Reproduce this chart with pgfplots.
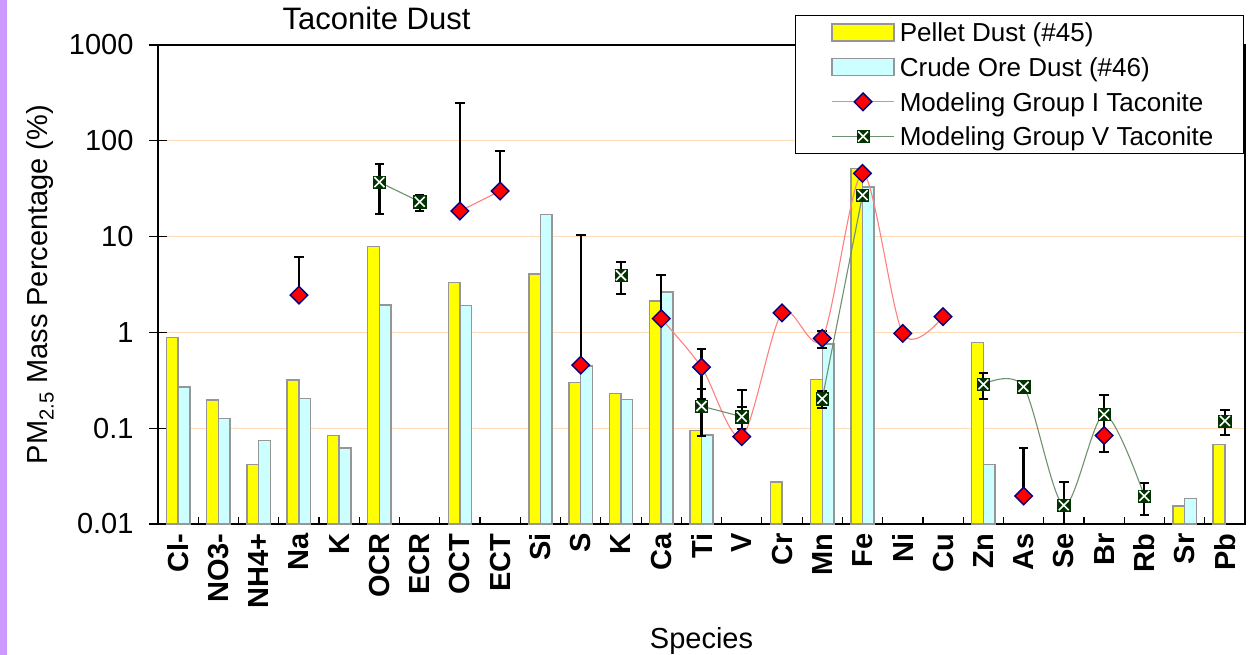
\documentclass[border=0pt]{standalone}
\usepackage{pgfplots}
\pgfplotsset{compat=1.18}
\usepackage{pgfplotstable}
\usepackage{fontspec}
\setmainfont{Liberation Sans}

\definecolor{pellet}{RGB}{255,255,0}
\definecolor{crude}{RGB}{204,255,255}
\definecolor{baredge}{RGB}{150,150,150}
\definecolor{gridpeach}{RGB}{255,218,185}
\definecolor{gonefill}{RGB}{255,0,0}
\definecolor{goneedge}{RGB}{0,0,128}
\definecolor{goneline}{RGB}{255,128,128}
\definecolor{gfivefill}{RGB}{0,51,0}
\definecolor{gfiveline}{RGB}{110,145,110}
\definecolor{sidebar}{RGB}{204,153,255}

% filled square with a white diagonal cross
\pgfdeclareplotmark{boxx}{%
  \pgfpathrectangle{\pgfqpoint{-\pgfplotmarksize}{-\pgfplotmarksize}}%
    {\pgfqpoint{2\pgfplotmarksize}{2\pgfplotmarksize}}%
  \pgfusepathqfillstroke
  \begin{pgfscope}%
    \pgfsetstrokecolor{white}%
    \pgfsetlinewidth{1.6bp}%
    \pgfpathmoveto{\pgfqpoint{-0.8\pgfplotmarksize}{-0.8\pgfplotmarksize}}%
    \pgfpathlineto{\pgfqpoint{0.8\pgfplotmarksize}{0.8\pgfplotmarksize}}%
    \pgfpathmoveto{\pgfqpoint{-0.8\pgfplotmarksize}{0.8\pgfplotmarksize}}%
    \pgfpathlineto{\pgfqpoint{0.8\pgfplotmarksize}{-0.8\pgfplotmarksize}}%
    \pgfusepathqstroke
  \end{pgfscope}%
}

\pgfplotsset{
  dust legend/.style={legend image code/.code={%
    \path (0bp,0bp); \draw[##1] (10.7bp,-8.5bp) rectangle (72.7bp,8.5bp);}},
  model legend/.style={legend image code/.code={%
    \path (0bp,0bp);
    \draw[##1, mark repeat=2, mark phase=2] plot coordinates {(10.7bp,0bp) (41.7bp,0bp) (72.7bp,0bp)};}},
}

% species index, pellet dust, crude ore dust
\pgfplotstableread{
x   pel     cru
0   0.89    0.27
1   0.196   0.126
2   0.042   0.074
3   0.32    0.203
4   0.0835  0.0625
5   7.85    1.93
6   nan     nan
7   3.3     1.91
8   nan     nan
9   4.06    17.1
10  0.30    0.445
11  0.231   0.20
12  2.12    2.63
13  0.095   0.085
14  nan     nan
15  0.0276  nan
16  0.323   0.76
17  51.5    33
18  nan     nan
19  nan     nan
20  0.78    0.042
21  nan     nan
22  nan     nan
23  nan     nan
24  nan     nan
25  0.0155  0.0185
26  0.0678  nan
}\bardata

% modeling groups: value, upper error, lower error
\pgfplotstableread{
x   g1      g1p     g1m     g5      g5e
0   nan     0       0       nan     0
1   nan     0       0       nan     0
2   nan     0       0       nan     0
3   2.45    3.65    0       nan     0
4   nan     0       0       nan     0
5   nan     0       0       37      19.7
6   nan     0       0       23.1    4.4
7   18.5    232     0       nan     0
8   29.9    48      0       nan     0
9   nan     0       0       nan     0
10  0.456   10.0    0       nan     0
11  nan     0       0       3.94    1.45
12  1.39    2.6     0       nan     0
13  0.434   0.231   0.231   0.17    0.088
14  0.0815  0.17    0       0.132   0.033
15  1.6     0       0       nan     0
16  0.865   0.17    0.17    0.203   0.042
17  45.7    0       0       27.1    0
18  0.976   0       0       nan     0
19  1.46    0       0       nan     0
20  nan     0       0       0.287   0.087
21  0.0196  0.043   0       0.271   0
22  nan     0       0       0.0157  0.0117
23  0.084   0       0       0.139   0.083
24  nan     0       0       0.0196  0.0073
25  nan     0       0       nan     0
26  nan     0       0       0.119   0.035
}\markdata

\begin{document}
\begin{tikzpicture}
\useasboundingbox (-158bp,-131bp) rectangle (1095bp,524bp);
\fill[sidebar] (-158bp,-131bp) rectangle (-151bp,524bp);
\begin{axis}[
  scale only axis, width=1087bp, height=479bp,
  at={(0,0)}, anchor=south west,
  ymode=log, ymin=0.01, ymax=1000, log origin y=infty,
  xmin=-0.5, xmax=26.5,
  axis line style={black, line width=1.6bp},
  tick style={black, line width=1.2bp},
  % category names
  xtick={0,...,26},
  xticklabels={Cl-,NO3-,NH4+,Na,K,OCR,ECR,OCT,ECT,Si,S,K,Ca,Ti,V,Cr,Mn,Fe,Ni,Cu,Zn,As,Se,Br,Rb,Sr,Pb},
  major x tick style={draw=none},
  minor xtick={0.5,1.5,...,25.5},
  minor tick length=7bp,
  xtick align=inside,
  xtick pos=bottom,
  xticklabel style={rotate=90, anchor=east, font=\fontsize{29bp}{34bp}\selectfont\bfseries},
  xticklabel shift=6bp,
  % decades
  ytick={0.01,0.1,1,10,100,1000},
  yticklabels={0.01,0.1,1,10,100,1000},
  yminorticks=false,
  ytick align=center,
  major tick length=18bp,
  ytick pos=left,
  yticklabel style={font=\fontsize{29bp}{34bp}\selectfont},
  yticklabel shift=12bp,
  ymajorgrids, xmajorgrids=false,
  major grid style={gridpeach, line width=1.2bp},
  title={Taconite Dust},
  title style={at={(0.201,1)}, anchor=base, yshift=10bp, font=\fontsize{31bp}{36bp}\selectfont},
  xlabel={Species},
  xlabel style={at={([yshift=-124bp]rel axis cs:0.5,0)}, anchor=base, font=\fontsize{29bp}{34bp}\selectfont},
  ylabel={PM\textsubscript{2.5} Mass Percentage (\%)},
  ylabel style={at={([xshift=-110bp]rel axis cs:0,0.5)}, anchor=base, font=\fontsize{29bp}{34bp}\selectfont},
  legend cell align=left,
  legend style={at={(0.586,1.0633)}, anchor=north west,
    draw=black, line width=1.3bp, fill=white,
    inner xsep=25bp, inner ysep=8bp, row sep=16bp,
    font=\fontsize{26bp}{30bp}\selectfont,
    nodes={inner xsep=5bp, inner ysep=0bp, text height=18.6bp, text depth=0bp}},
]
% bars
\addplot[ybar, bar width=0.29, bar shift=-0.145, fill=pellet, draw=baredge, line width=1.5bp, dust legend]
  table[x=x, y=pel] {\bardata};
\addlegendentry{Pellet Dust (\#45)}
\addplot[ybar, bar width=0.29, bar shift=0.145, fill=crude, draw=baredge, line width=1.5bp, dust legend]
  table[x=x, y=cru] {\bardata};
\addlegendentry{Crude Ore Dust (\#46)}

% error bars
\addplot[forget plot, draw=none, mark=none,
  error bars/.cd, y dir=both, y explicit,
  error bar style={draw=black, line width=2.2bp},
  error mark options={rotate=90, draw=black, line width=2bp, mark size=4.8bp}]
  table[x=x, y=g1, y error plus=g1p, y error minus=g1m] {\markdata};
\addplot[forget plot, draw=none, mark=none,
  error bars/.cd, y dir=both, y explicit,
  error bar style={draw=black, line width=2.2bp},
  error mark options={rotate=90, draw=black, line width=2bp, mark size=4.8bp}]
  table[x=x, y=g5, y error plus=g5e, y error minus=g5e] {\markdata};

% modeling groups
\addplot[goneline, line width=1.1bp, smooth, unbounded coords=jump,
  mark=square*, mark size=6.2bp,
  mark options={rotate=45, fill=gonefill, draw=goneedge, line width=1.4bp, solid},
  model legend]
  table[x=x, y=g1] {\markdata};
\addlegendentry{Modeling Group I Taconite}
\addplot[gfiveline, line width=1.1bp, smooth, unbounded coords=jump,
  mark=boxx, mark size=6.2bp,
  mark options={fill=gfivefill, draw=gfivefill, line width=0.5bp, solid},
  model legend]
  table[x=x, y=g5] {\markdata};
\addlegendentry{Modeling Group V Taconite}
\end{axis}
\end{tikzpicture}
\end{document}
